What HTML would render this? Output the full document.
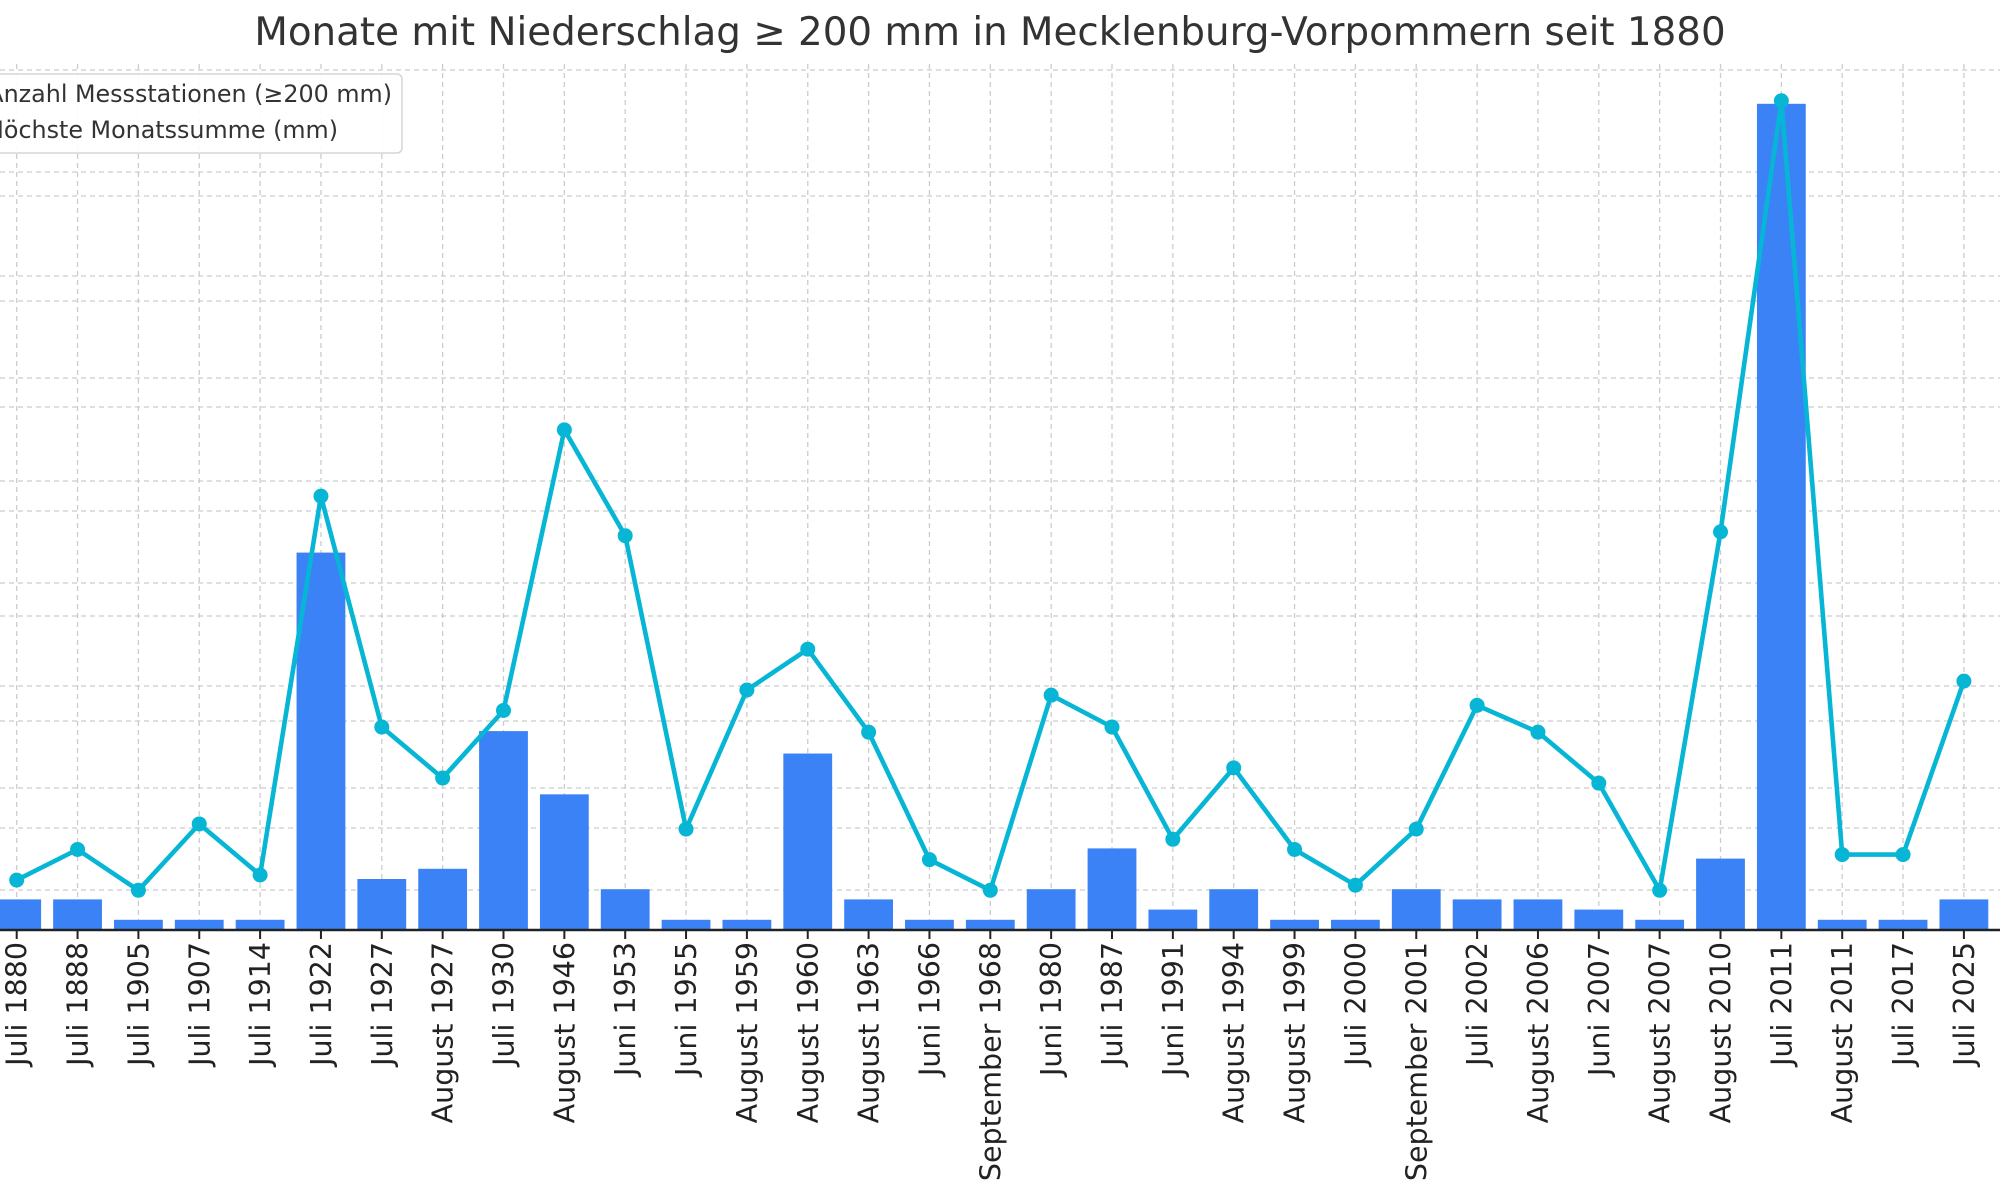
<!DOCTYPE html>
<html><head><meta charset="utf-8"><style>
html,body{margin:0;padding:0;background:#fff;width:2000px;height:1200px;overflow:hidden}
svg text{font-family:"DejaVu Sans","Liberation Sans",sans-serif;fill:#222}
</style></head><body>
<svg id="c" width="2000" height="1200" viewBox="0 0 2000 1200" xmlns="http://www.w3.org/2000/svg">
<text x="990" y="45" font-size="38.8" text-anchor="middle" fill="#333" style="fill:#333">Monate mit Niederschlag ≥ 200 mm in Mecklenburg-Vorpommern seit 1880</text>
<g id="grid" stroke="#cccccc" stroke-width="1.3" stroke-dasharray="5,4"></g>
<g id="bars" fill="#3b82f6"></g>
<line x1="0" y1="930" x2="2000" y2="930" stroke="#222" stroke-width="2.5"/>
<g id="ticks" stroke="#222" stroke-width="2"></g>
<polyline id="ln" fill="none" stroke="#06b6d4" stroke-width="4.6" stroke-linejoin="round"/>
<g id="dots" fill="#06b6d4"></g>
<g id="labels"></g>
<rect x="-10" y="74" width="412" height="79" rx="5" fill="#fff" fill-opacity="0.9" stroke="#d6d6d6" stroke-width="1.5"/>
<text x="392" y="102" font-size="23.8" text-anchor="end" fill="#333" style="fill:#333">Anzahl Messstationen (≥200 mm)</text>
<text x="338" y="138" font-size="23.8" text-anchor="end" fill="#333" style="fill:#333">Höchste Monatssumme (mm)</text>
</svg>
<script>
var NS="http://www.w3.org/2000/svg";
function el(t,a,p){var e=document.createElementNS(NS,t);for(var k in a)e.setAttribute(k,a[k]);document.getElementById(p).appendChild(e);return e;}
var labels=["Juli 1880","Juli 1888","Juli 1905","Juli 1907","Juli 1914","Juli 1922","Juli 1927","August 1927","Juli 1930","August 1946","Juni 1953","Juni 1955","August 1959","August 1960","August 1963","Juni 1966","September 1968","Juni 1980","Juli 1987","Juni 1991","August 1994","August 1999","Juli 2000","September 2001","Juli 2002","August 2006","Juni 2007","August 2007","August 2010","Juli 2011","August 2011","Juli 2017","Juli 2025"];
var bars=[3,3,1,1,1,37,5,6,19.5,13.3,4,1,1,17.3,3,1,1,4,8,2,4,1,1,4,3,3,2,1,7,81,1,1,3];
var ld=[690,666,698,646,686,389,570,610,557,337,420,650,541,509,574,674,698,545,570,658,602,666,694,650,553,574,614,698,417,79,670,670,534];
var hg=[828,721,616,511,407,301,196,890,788,686,583,481,378,276,172,70];
hg.forEach(function(y){el("line",{x1:0,x2:2000,y1:y,y2:y},"grid");});
var pts=[];
for(var i=0;i<33;i++){
 var x=16.7+60.85*i;
 el("line",{x1:x,x2:x,y1:64,y2:930},"grid");
 var h=bars[i]*10.2;
 el("rect",{x:x-24.4,y:930-h,width:48.8,height:h},"bars");
 el("line",{x1:x,x2:x,y1:930,y2:939},"ticks");
 var y=ld[i]*1.2755;
 pts.push(x.toFixed(1)+","+y.toFixed(1));
 el("circle",{cx:x,cy:y,r:7.5},"dots");
 var t=el("text",{x:0,y:0,"font-size":28.5,"text-anchor":"end",transform:"translate("+(x+10)+",942) rotate(-90)"},"labels");
 t.textContent=labels[i];
}
document.getElementById("ln").setAttribute("points",pts.join(" "));
</script>
</body></html>
